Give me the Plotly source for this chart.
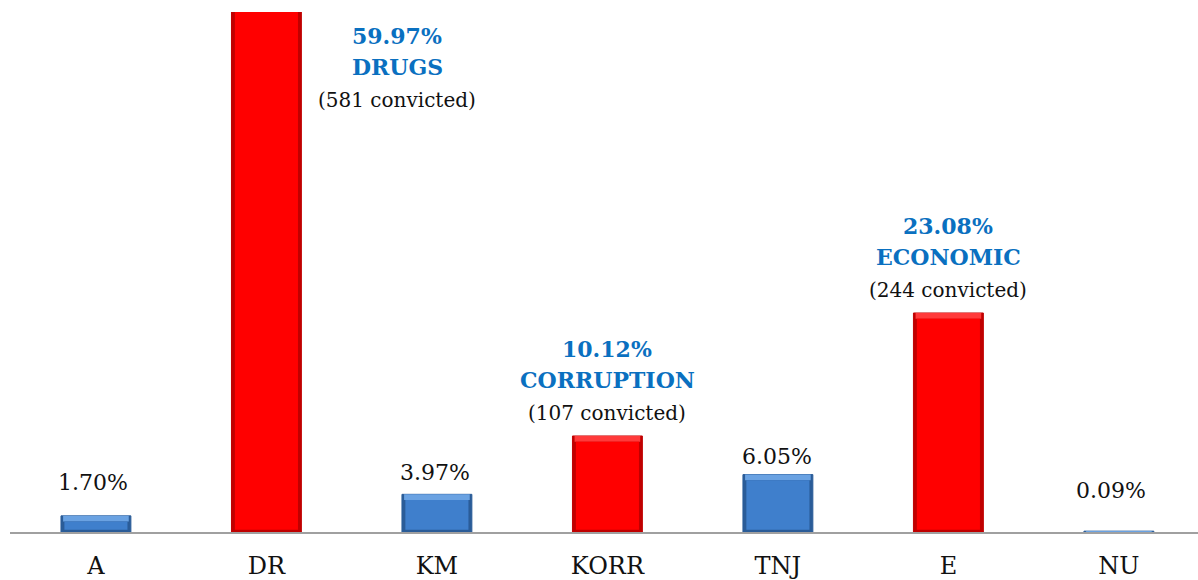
import plotly.graph_objects as go

# Share of convicted persons by offence category (%)
categories = ["A", "DR", "KM", "KORR", "TNJ", "E", "NU"]
shares = [1.70, 59.97, 3.97, 10.12, 6.05, 23.08, 0.09]
highlighted = [False, True, False, True, False, True, False]
group_names = ["", "DRUGS", "", "CORRUPTION", "", "ECONOMIC", ""]
convicted = [None, 581, None, 107, None, 244, None]

RED_MAIN, RED_DARK, RED_LIGHT = "#ff0000", "#c00000", "#ff3a3a"
BLUE_MAIN, BLUE_DARK, BLUE_LIGHT = "#3f7fcc", "#2a5c98", "#6aa2e2"
LABEL_BLUE = "#0a70c0"
TEXT = "#111111"
FONT = "DejaVu Serif"

x = list(range(len(categories)))
bevel = 0.6      # height of the bevelled top face, in % units
edge = 0.25      # bottom edge thickness, in % units

dark = [RED_DARK if h else BLUE_DARK for h in highlighted]
main = [RED_MAIN if h else BLUE_MAIN for h in highlighted]
light = [RED_LIGHT if h else BLUE_LIGHT for h in highlighted]

fig = go.Figure()
# outer body (dark edges)
fig.add_trace(go.Bar(x=x, y=shares, width=0.41, marker=dict(color=dark, line=dict(color=dark, width=1)),
                     hoverinfo="skip", showlegend=False))
# highlighted top face
top_h = [min(bevel, v) for v in shares]
fig.add_trace(go.Bar(x=x, y=top_h, base=[v - t for v, t in zip(shares, top_h)], width=0.385,
                     marker=dict(color=light, line=dict(width=0)), hoverinfo="skip", showlegend=False))
# front face
face_h = [max(v - bevel - edge, 0) for v in shares]
fig.add_trace(go.Bar(x=x, y=face_h, base=[edge if v > bevel + edge else 0 for v in shares], width=0.37,
                     marker=dict(color=main, line=dict(width=0)), hoverinfo="skip", showlegend=False))

# label offsets (px above the bar top) for the plain percentage labels
plain_offset = {0: 33, 2: 22, 4: 18, 6: 41}
plain_xshift = {0: -3, 2: -2, 4: -1, 6: -8}

annotations = []
for i, (v, h, name, n) in enumerate(zip(shares, highlighted, group_names, convicted)):
    if h:
        lines = [
            (f"<b>{v:.2f}%</b>", LABEL_BLUE, 22, 87),
            (f"<b>{name}</b>", LABEL_BLUE, 22, 56),
            (f"({n} convicted)", TEXT, 20, 23),
        ]
        for txt, col, size, off in lines:
            if i == 1:
                # tallest bar: label block placed beside it, under the top edge
                annotations.append(dict(x=i + 0.768, y=1, xref="x", yref="paper", yanchor="middle",
                                        yshift=-(111 - off), text=txt, showarrow=False,
                                        font=dict(family=FONT, size=size, color=col)))
            else:
                annotations.append(dict(x=i, y=v, xref="x", yref="y", yanchor="middle",
                                        yshift=off, text=txt, showarrow=False,
                                        font=dict(family=FONT, size=size, color=col)))
    else:
        annotations.append(dict(x=i, y=v, xref="x", yref="y", yanchor="middle",
                                yshift=plain_offset[i], xshift=plain_xshift[i],
                                text=f"{v:.2f}%", showarrow=False,
                                font=dict(family=FONT, size=22, color=TEXT)))

fig.update_layout(
    width=1198, height=580,
    margin=dict(l=10, r=0, t=12, b=48),
    barmode="overlay",
    plot_bgcolor="white", paper_bgcolor="white",
    annotations=annotations,
    xaxis=dict(range=[-0.504, 6.464], tickmode="array", tickvals=x, ticktext=categories,
               showline=True, linecolor="#a0a0a0", linewidth=2, ticks="", showgrid=False,
               zeroline=False, ticklabelstandoff=11, automargin=False,
               tickfont=dict(family=FONT, size=24, color=TEXT)),
    yaxis=dict(range=[0, 54.8], visible=False, showgrid=False, zeroline=False, automargin=False),
)

fig.write_html("out.html")
